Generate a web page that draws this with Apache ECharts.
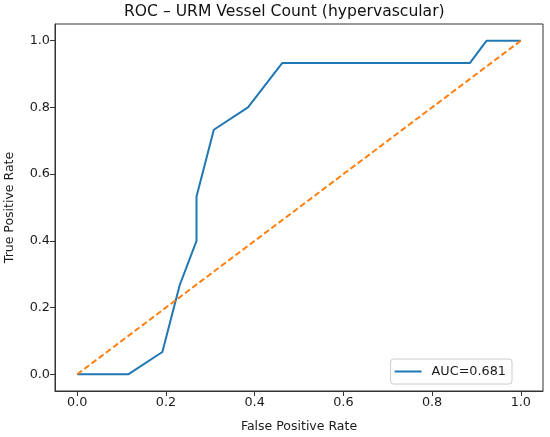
<!DOCTYPE html>
<html>
<head>
<meta charset="utf-8">
<script src="https://cdn.jsdelivr.net/npm/echarts@6/dist/echarts.min.js"></script>
<style>
  html, body { margin: 0; padding: 0; background: #fff; }
  #chart { width: 550px; height: 437px; }
</style>
</head>
<body>
<div id="chart"></div>
<script>
// ROC points
var fpr = [0, 0.115, 0.192, 0.231, 0.269, 0.269, 0.308, 0.385, 0.462, 0.885, 0.923, 1.0];
var tpr = [0, 0, 0.067, 0.267, 0.4, 0.533, 0.733, 0.8, 0.933, 0.933, 1.0, 1.0];
var chance = [0, 1];
var ticks = [0, 0.2, 0.4, 0.6, 0.8, 1.0];
var aucLabel = 'AUC=0.681';

var chart = echarts.init(document.getElementById('chart'));

var rocData = fpr.map(function (x, i) { return [x, tpr[i]]; });
var chanceData = chance.map(function (v) { return [v, v]; });

var font = 'DejaVu Sans';

function axisCommon(name, gap) {
    return {
        type: 'value',
        min: -0.05,
        max: 1.05,
        name: name,
        nameLocation: 'middle',
        nameGap: gap,
        nameTextStyle: { fontFamily: font, fontSize: 12.5, color: '#1a1a1a' },
        axisLine: { show: true, onZero: false, lineStyle: { color: '#333', width: 1 } },
        axisTick: { show: true, length: 5, customValues: ticks, lineStyle: { color: '#333' } },
        axisLabel: {
            customValues: ticks,
            fontFamily: font,
            fontSize: 12.8,
            color: '#1a1a1a',
            margin: 5,
            formatter: function (v) { return v.toFixed(1); }
        },
        splitLine: { show: false }
    };
}

option = {
    backgroundColor: '#ffffff',
    animation: false,
    title: {
        text: 'ROC – URM Vessel Count (hypervascular)',
        left: 124,
        top: 4,
        padding: 0,
        textStyle: { fontFamily: font, fontSize: 15.6, fontWeight: 'normal', color: '#111' }
    },
    grid: {
        left: 55,
        right: 7,
        top: 24,
        bottom: 46,
        outerBoundsMode: 'none',
        show: true,
        borderColor: '#333',
        borderWidth: 1
    },
    legend: {
        data: [{ name: aucLabel, icon: 'rect' }],
        right: 38,
        bottom: 53,
        orient: 'vertical',
        itemWidth: 27,
        itemHeight: 2,
        itemGap: 0,
        padding: [6, 6, 6, 4],
        borderColor: '#ccc',
        borderWidth: 1,
        borderRadius: 3,
        textStyle: { fontFamily: font, fontSize: 12.8, color: '#1a1a1a', padding: [0, 0, 0, 5] }
    },
    xAxis: axisCommon('False Positive Rate', 29),
    yAxis: axisCommon('True Positive Rate', 39),
    series: [
        {
            name: aucLabel,
            type: 'line',
            data: rocData,
            symbol: 'none',
            lineStyle: { color: '#1f77b4', width: 2 },
            itemStyle: { color: '#1f77b4' }
        },
        {
            name: 'chance',
            type: 'line',
            data: chanceData,
            symbol: 'none',
            lineStyle: { color: '#ff7f0e', width: 2, type: [6, 3] },
            itemStyle: { color: '#ff7f0e' }
        }
    ]
};
chart.setOption(option);

window.onresize = function () {
    chart.resize();
};
</script>
</body>
</html>
